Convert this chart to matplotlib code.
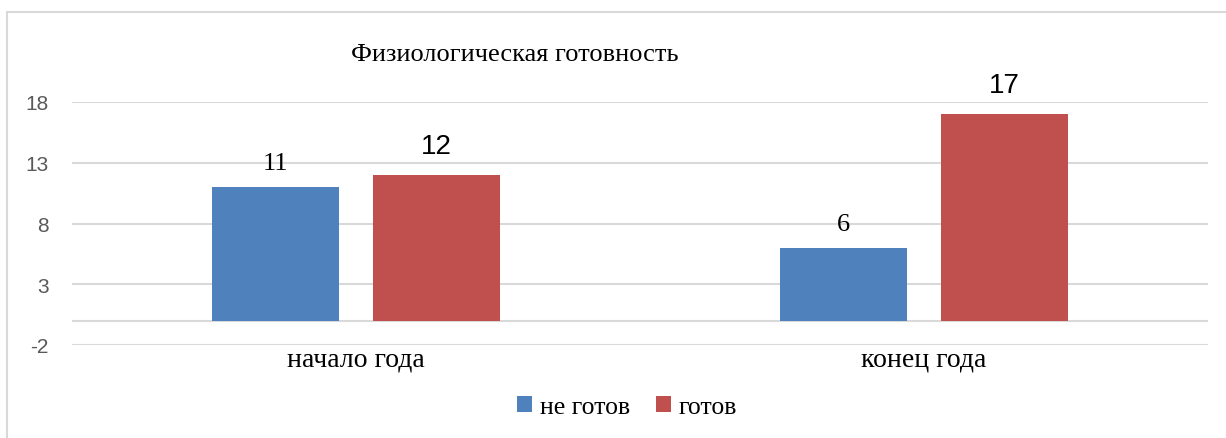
import numpy as np
from matplotlib import pyplot as plt
from matplotlib.patches import Rectangle

# данные диаграммы
categories = ['начало года', 'конец года']
series_names = ['не готов', 'готов']
ne_gotov = [11, 6]
gotov = [12, 17]
y_ticks = [-2, 3, 8, 13, 18]

blue = '#4F81BD'
red = '#C0504D'
grid_col = '#D9D9D9'
serif = ['Liberation Serif', 'DejaVu Serif']
sans = ['Liberation Sans', 'DejaVu Sans']

plt.rcParams['axes.unicode_minus'] = False

fig = plt.figure(figsize=(12.26, 4.39), dpi=100)
ax = fig.add_axes([72 / 1226, 1 - 346 / 439, 1136 / 1226, 243 / 439])

# рамка вокруг диаграммы
fig.patches.append(Rectangle((7 / 1226, -0.1), 1.2, 1 - 13 / 439 + 0.1,
                             transform=fig.transFigure, fill=False,
                             edgecolor=grid_col, linewidth=1.5))

x = np.arange(len(categories))
w = 0.224
off = 0.1417
b1 = ax.bar(x - off, ne_gotov, w, color=blue, label=series_names[0], zorder=3)
b2 = ax.bar(x + off, gotov, w, color=red, label=series_names[1], zorder=3)

# подписи значений
for rect, v in zip(b1, ne_gotov):
    ax.annotate(str(v), (rect.get_x() + rect.get_width() / 2, v),
                xytext=(0, 17), textcoords='offset points', ha='center', va='center',
                fontsize=19, family=serif, annotation_clip=False)
for rect, v in zip(b2, gotov):
    ax.annotate(str(v), (rect.get_x() + rect.get_width() / 2, v),
                xytext=(0, 21), textcoords='offset points', ha='center', va='center',
                fontsize=20, family=sans, annotation_clip=False)

ax.set_xlim(-0.5, len(categories) - 0.5)
ax.set_ylim(y_ticks[0], y_ticks[-1])
ax.set_yticks(y_ticks)
ax.set_xticks(x)
ax.set_xticklabels(categories, fontsize=20, family=serif)
ax.tick_params(axis='x', length=0, pad=1)
ax.tick_params(axis='y', length=0, pad=17, labelsize=15, labelcolor='#595959')
for lab in ax.get_yticklabels():
    lab.set_family(sans)

ax.grid(axis='y', color=grid_col, linewidth=1.5, zorder=0)
ax.axhline(0, color=grid_col, linewidth=1.5, zorder=1)
for s in ax.spines.values():
    s.set_visible(False)

fig.text(515 / 1226, 1 - 55 / 439, 'Физиологическая готовность', ha='center', va='center',
         fontsize=19, family=serif)

fig.legend(handles=[b1, b2], loc='center', bbox_to_anchor=(627 / 1226, 1 - 408 / 439),
           ncol=2, frameon=False, prop={'family': serif, 'size': 18.5},
           handlelength=0.6, handleheight=0.6, handletextpad=0.3, columnspacing=1.0)

plt.savefig('out.png', dpi=100)
